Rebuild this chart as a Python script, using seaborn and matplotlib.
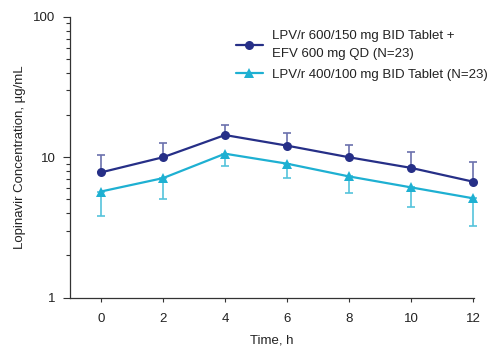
import numpy as np
import pandas as pd
import matplotlib
matplotlib.use("Agg")
import matplotlib.pyplot as plt
import matplotlib.ticker as mticker
import seaborn as sns

# values
time_h = [0, 2, 4, 6, 8, 10, 12]
efv_mean = [7.8, 10.0, 14.4, 12.1, 10.0, 8.4, 6.7]
efv_upper = [10.45, 12.6, 17.0, 14.8, 12.3, 10.9, 9.2]
tab_mean = [5.7, 7.1, 10.6, 9.0, 7.3, 6.1, 5.1]
tab_lower = [3.83, 5.07, 8.72, 7.16, 5.59, 4.44, 3.25]

efv_label = "LPV/r 600/150 mg BID Tablet +\nEFV 600 mg QD (N=23)"
tab_label = "LPV/r 400/100 mg BID Tablet (N=23)"

navy = "#262f87"
cyan = "#1eb0d2"

sns.set_style("ticks")
plt.rcParams['font.family'] = ['Liberation Sans', 'DejaVu Sans']

df = pd.DataFrame({
    "time": time_h * 2,
    "conc": efv_mean + tab_mean,
    "group": [efv_label] * 7 + [tab_label] * 7,
})

fig = plt.figure(figsize=(4.91, 3.46), dpi=100)
ax = fig.add_axes([0.1426, 0.140, 0.822, 0.811])

# one-sided error bars (upper for navy, lower for cyan)
efv_err = np.array(efv_upper) - np.array(efv_mean)
tab_err = np.array(tab_mean) - np.array(tab_lower)
e1 = ax.errorbar(time_h, efv_mean, yerr=[np.zeros(7), efv_err], fmt="none",
                 ecolor="#6b71ad", elinewidth=1.2, capsize=3, capthick=1.2, zorder=1)
e2 = ax.errorbar(time_h, tab_mean, yerr=[tab_err, np.zeros(7)], fmt="none",
                 ecolor="#55c3dc", elinewidth=1.2, capsize=3, capthick=1.2, zorder=1)
for e in (e1, e2):
    for art in e.lines[1] + e.lines[2]:
        art.set_clip_on(False)

sns.lineplot(data=df, x="time", y="conc", hue="group", style="group",
             palette=[navy, cyan], markers=["o", "^"], dashes=False,
             markersize=6.5, markeredgewidth=0, linewidth=1.6, ax=ax, zorder=3)
for ln in ax.lines:
    ln.set_clip_on(False)

ax.set_yscale("log")
ax.set_ylim(1, 100)
ax.set_xlim(-1, 12.02)
ax.set_xticks(time_h)
ax.yaxis.set_major_formatter(mticker.FuncFormatter(lambda v, p: f"{v:g}"))
ax.yaxis.set_minor_formatter(mticker.NullFormatter())
ax.tick_params(axis="both", labelsize=9.5, colors="#333333", width=0.8)
ax.tick_params(axis="x", length=3, pad=8, labelcolor="#222222")
ax.tick_params(axis="y", which="major", length=5, pad=5.5, labelcolor="#222222")
ax.tick_params(axis="y", which="minor", length=3, width=0.8, colors="#333333")
for s in ["left", "bottom"]:
    ax.spines[s].set_color("#333333")
    ax.spines[s].set_linewidth(0.9)
sns.despine(ax=ax)

ax.set_xlabel("Time, h", fontsize=9.5, color="#222222", labelpad=7)
ax.set_ylabel("Lopinavir Concentration, µg/mL", fontsize=9.5, color="#222222", labelpad=5)

leg = ax.legend(loc="upper left", bbox_to_anchor=(0.411, 0.952), frameon=False,
                handlelength=2.05, handletextpad=0.7,
                labelspacing=0.65, borderpad=0, borderaxespad=0,
                prop={"size": 9.5})
for t in leg.get_texts():
    t.set_color("#222222")
    t.set_linespacing(1.6)

plt.savefig("out.png", dpi=100)
